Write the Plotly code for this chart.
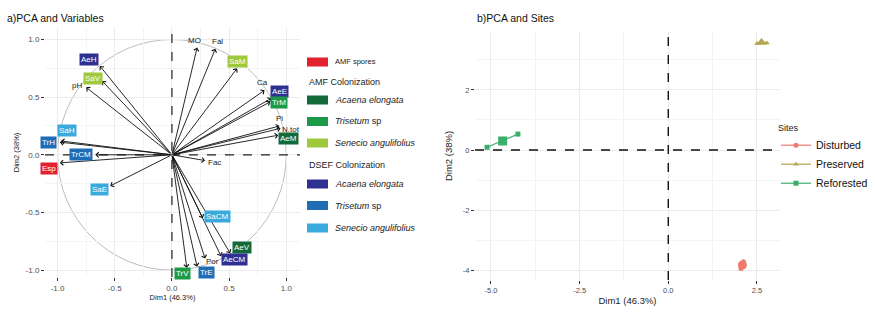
import plotly.graph_objects as go

# ---------------- data: panel a (variables) ----------------
var_names = ["MO", "Fal", "SaM", "Ca", "AeE", "TrM", "Pi", "N.tot", "AeM",
             "AeH", "SaV", "pH", "TrH", "SaH", "TrCM", "Esp", "SaE", "Fac",
             "SaCM", "AeV", "AeCM", "Por", "TrE", "TrV"]
var_dim1 = [0.22, 0.38, 0.57, 0.81, 0.87, 0.86, 0.94, 0.95, 0.93,
            -0.63, -0.61, -0.75, -0.98, -0.97, -0.67, -0.98, -0.54, 0.29,
            0.27, 0.51, 0.43, 0.29, 0.22, 0.13]
var_dim2 = [0.93, 0.92, 0.75, 0.56, 0.49, 0.46, 0.25, 0.23, 0.17,
            0.77, 0.64, 0.585, 0.11, 0.12, 0.0, -0.07, -0.27, -0.05,
            -0.55, -0.855, -0.88, -0.90, -0.97, -0.98]
var_group = ["soil", "soil", "AMF_Sa", "soil", "DSEF_Ae", "AMF_Tr", "soil", "soil", "AMF_Ae",
             "DSEF_Ae", "AMF_Sa", "soil", "DSEF_Tr", "DSEF_Sa", "DSEF_Tr", "spores", "DSEF_Sa", "soil",
             "DSEF_Sa", "AMF_Ae", "DSEF_Ae", "soil", "DSEF_Tr", "AMF_Tr"]

legend_a_labels = ["AMF spores", "AMF Colonization", "<i>Acaena elongata</i>", "<i>Trisetum</i> sp",
                   "<i>Senecio angulifolius</i>", "DSEF Colonization", "<i>Acaena elongata</i>",
                   "<i>Trisetum</i> sp", "<i>Senecio angulifolius</i>"]
legend_a_groups = ["spores", None, "AMF_Ae", "AMF_Tr", "AMF_Sa", None, "DSEF_Ae", "DSEF_Tr", "DSEF_Sa"]

# ---------------- data: panel b (sites) ----------------
sites = ["Disturbed", "Preserved", "Reforested"]
site_dim1 = [[2.05, 2.10, 2.12], [2.50, 2.62, 2.78], [-5.11, -4.67, -4.24]]
site_dim2 = [[-3.95, -3.83, -3.72], [3.55, 3.62, 3.56], [0.09, 0.30, 0.53]]
site_mean1 = [2.09, 2.63, -4.67]
site_mean2 = [-3.83, 3.58, 0.30]

# ---------------- styles ----------------
group_colors = {"spores": "#e3202e", "AMF_Ae": "#14693a", "AMF_Tr": "#1c9a4a",
                "AMF_Sa": "#9fc83c", "DSEF_Ae": "#2e3192", "DSEF_Tr": "#1f6db5",
                "DSEF_Sa": "#3aa9dd"}
site_colors = ["#f07a70", "#b3a64e", "#3aae6a"]
site_symbols = ["circle", "triangle-up", "square"]
# label offsets in pixels (x, y up) – mimic ggrepel placement
label_shift = {"MO": (-3, 7), "Fal": (2, 7), "SaM": (0, 7), "Ca": (-2, 8), "AeE": (8, 7),
               "TrM": (9, -1), "Pi": (0, 7), "N.tot": (10, -1), "AeM": (10, -3),
               "AeH": (-11, 7), "SaV": (-9, 3), "pH": (-9, 2), "TrH": (-11, 0), "SaH": (6, 10),
               "TrCM": (-14, 0), "Esp": (-11, -6), "SaE": (-11, -4), "Fac": (9, -2),
               "SaCM": (15, 2), "AeV": (12, 6), "AeCM": (13, -3), "Por": (7, -3),
               "TrE": (9, -6), "TrV": (-4, -6)}

W, H = 875, 320
FONT = "Liberation Sans, Arial, sans-serif"
grid_c = "#ebebeb"
tick_c = "#4d4d4d"

fig = go.Figure()

# invisible trace to anchor panel a axes
fig.add_trace(go.Scatter(x=var_dim1, y=var_dim2, mode="markers", marker=dict(size=1, opacity=0),
                         hoverinfo="text", text=var_names, showlegend=False, xaxis="x", yaxis="y"))

annotations = []
shapes = []

# unit circle
shapes.append(dict(type="circle", xref="x", yref="y", x0=-1, y0=-1, x1=1, y1=1,
                   line=dict(color="#bdbdbd", width=1), layer="below"))
# zero dashed lines panel a
shapes.append(dict(type="line", xref="x", yref="y domain", x0=0, x1=0, y0=0, y1=1,
                   line=dict(color="#222", width=1.2, dash="dash")))
shapes.append(dict(type="line", xref="x domain", yref="y", x0=0, x1=1, y0=0, y1=0,
                   line=dict(color="#222", width=1.2, dash="dash")))

# arrows
for n, x, y in zip(var_names, var_dim1, var_dim2):
    annotations.append(dict(x=x, y=y, ax=0, ay=0, xref="x", yref="y", axref="x", ayref="y",
                            text="", showarrow=True, arrowhead=4, arrowsize=1.1, arrowwidth=0.9,
                            arrowcolor="#111"))
# labels
for n, x, y, g in zip(var_names, var_dim1, var_dim2, var_group):
    dx, dy = label_shift[n]
    if g == "soil":
        annotations.append(dict(x=x, y=y, xref="x", yref="y", text=n, showarrow=False,
                                xshift=dx, yshift=dy, font=dict(size=8, color="#222", family=FONT)))
    else:
        annotations.append(dict(x=x, y=y, xref="x", yref="y", text=n, showarrow=False,
                                xshift=dx, yshift=dy, bgcolor=group_colors[g], borderpad=1,
                                font=dict(size=8, color="white", family=FONT)))

# panel a legend (manual)
leg_y = [62, 82, 100, 121.5, 143, 165, 184, 205.5, 228]
for lab, g, py in zip(legend_a_labels, legend_a_groups, leg_y):
    yp = 1 - py / H
    if g is None:
        annotations.append(dict(x=307 / W, y=yp, xref="paper", yref="paper", text=lab,
                                showarrow=False, xanchor="left", yanchor="middle",
                                font=dict(size=9, color="#222", family=FONT)))
    else:
        shapes.append(dict(type="rect", xref="paper", yref="paper", x0=307 / W, x1=328 / W,
                           y0=yp - 4.5 / H, y1=yp + 4.5 / H, fillcolor=group_colors[g],
                           line=dict(width=0)))
        annotations.append(dict(x=333 / W, y=yp, xref="paper", yref="paper", text=lab,
                                showarrow=False, xanchor="left", yanchor="middle",
                                font=dict(size=7.5 if g == "spores" else 9, color="#222", family=FONT)))

# panel b traces
for s, xs, ys, mx, my, c, sym in zip(sites, site_dim1, site_dim2, site_mean1, site_mean2,
                                     site_colors, site_symbols):
    fig.add_trace(go.Scatter(x=xs, y=ys, mode="lines+markers", name=s, legendgroup=s,
                             line=dict(color=c, width=1.2),
                             marker=dict(color=c, symbol=sym, size=5),
                             xaxis="x2", yaxis="y2", legend="legend"))
    fig.add_trace(go.Scatter(x=[mx], y=[my], mode="markers", name=s, legendgroup=s,
                             showlegend=False, marker=dict(color=c, symbol=sym, size=9),
                             xaxis="x2", yaxis="y2"))

shapes.append(dict(type="line", xref="x2", yref="y2 domain", x0=0, x1=0, y0=0, y1=1,
                   line=dict(color="#111", width=1.4, dash="dash")))
shapes.append(dict(type="line", xref="x2 domain", yref="y2", x0=0, x1=1, y0=0, y1=0,
                   line=dict(color="#111", width=1.4, dash="dash")))

# titles
annotations.append(dict(x=5 / W, y=1 - 18 / H, xref="paper", yref="paper", text="a)PCA and Variables",
                        showarrow=False, xanchor="left", yanchor="middle",
                        font=dict(size=10.5, color="#111", family=FONT)))
annotations.append(dict(x=475 / W, y=1 - 18 / H, xref="paper", yref="paper", text="b)PCA and Sites",
                        showarrow=False, xanchor="left", yanchor="middle",
                        font=dict(size=10.5, color="#111", family=FONT)))

axis_common = dict(showgrid=True, gridcolor=grid_c, gridwidth=1, zeroline=False, showline=False,
                   ticks="outside", ticklen=3, tickcolor="#333", tickwidth=1, automargin=False)

fig.update_layout(
    width=W, height=H, margin=dict(l=0, r=0, t=0, b=0, autoexpand=False),
    paper_bgcolor="white", plot_bgcolor="white",
    font=dict(family=FONT),
    showlegend=True,
    xaxis=dict(domain=[45 / W, 300 / W], range=[-1.11, 1.12], anchor="y",
               tickvals=[-1, -0.5, 0, 0.5, 1], ticktext=["-1.0", "-0.5", "0.0", "0.5", "1.0"],
               tickfont=dict(size=8, color=tick_c),
               minor=dict(dtick=0.25, tick0=0, showgrid=True, gridcolor="#f4f4f4"),
               title=dict(text="Dim1 (46.3%)", font=dict(size=7.5, color="#222"), standoff=3),
               **axis_common),
    yaxis=dict(domain=[1 - 277 / H, 1 - 28 / H], range=[-1.06, 1.10], anchor="x",
               tickvals=[-1, -0.5, 0, 0.5, 1], ticktext=["-1.0", "-0.5", "0.0", "0.5", "1.0"],
               tickfont=dict(size=8, color=tick_c),
               minor=dict(dtick=0.25, tick0=0, showgrid=True, gridcolor="#f4f4f4"),
               title=dict(text="Dim2 (38%)", font=dict(size=7.5, color="#222"), standoff=4),
               **axis_common),
    xaxis2=dict(domain=[475 / W, 780 / W], range=[-5.45, 3.15], anchor="y2",
                tickvals=[-5, -2.5, 0, 2.5], ticktext=["-5.0", "-2.5", "0.0", "2.5"],
                tickfont=dict(size=7.5, color=tick_c),
                minor=dict(dtick=1.25, tick0=0, showgrid=True, gridcolor="#f4f4f4"),
                title=dict(text="Dim1 (46.3%)", font=dict(size=9.5, color="#222"), standoff=3),
                **axis_common),
    yaxis2=dict(domain=[1 - 280 / H, 1 - 32 / H], range=[-4.33, 3.93], anchor="x2",
                tickvals=[-4, -2, 0, 2], ticktext=["-4", "-2", "0", "2"],
                tickfont=dict(size=7.5, color=tick_c),
                minor=dict(dtick=1, tick0=0, showgrid=True, gridcolor="#f4f4f4"),
                title=dict(text="Dim2 (38%)", font=dict(size=9.5, color="#222"), standoff=8),
                **axis_common),
    legend=dict(x=776 / W, y=1 - 119 / H, xanchor="left", yanchor="top",
                title=dict(text="Sites", font=dict(size=9, color="#222")),
                font=dict(size=10.5, color="#111"), bgcolor="rgba(0,0,0,0)",
                tracegroupgap=0, itemwidth=30),
    annotations=annotations,
    shapes=shapes,
)

fig.write_html("out.html", config={"displayModeBar": False},
               post_script="document.body.style.margin='0px';")
